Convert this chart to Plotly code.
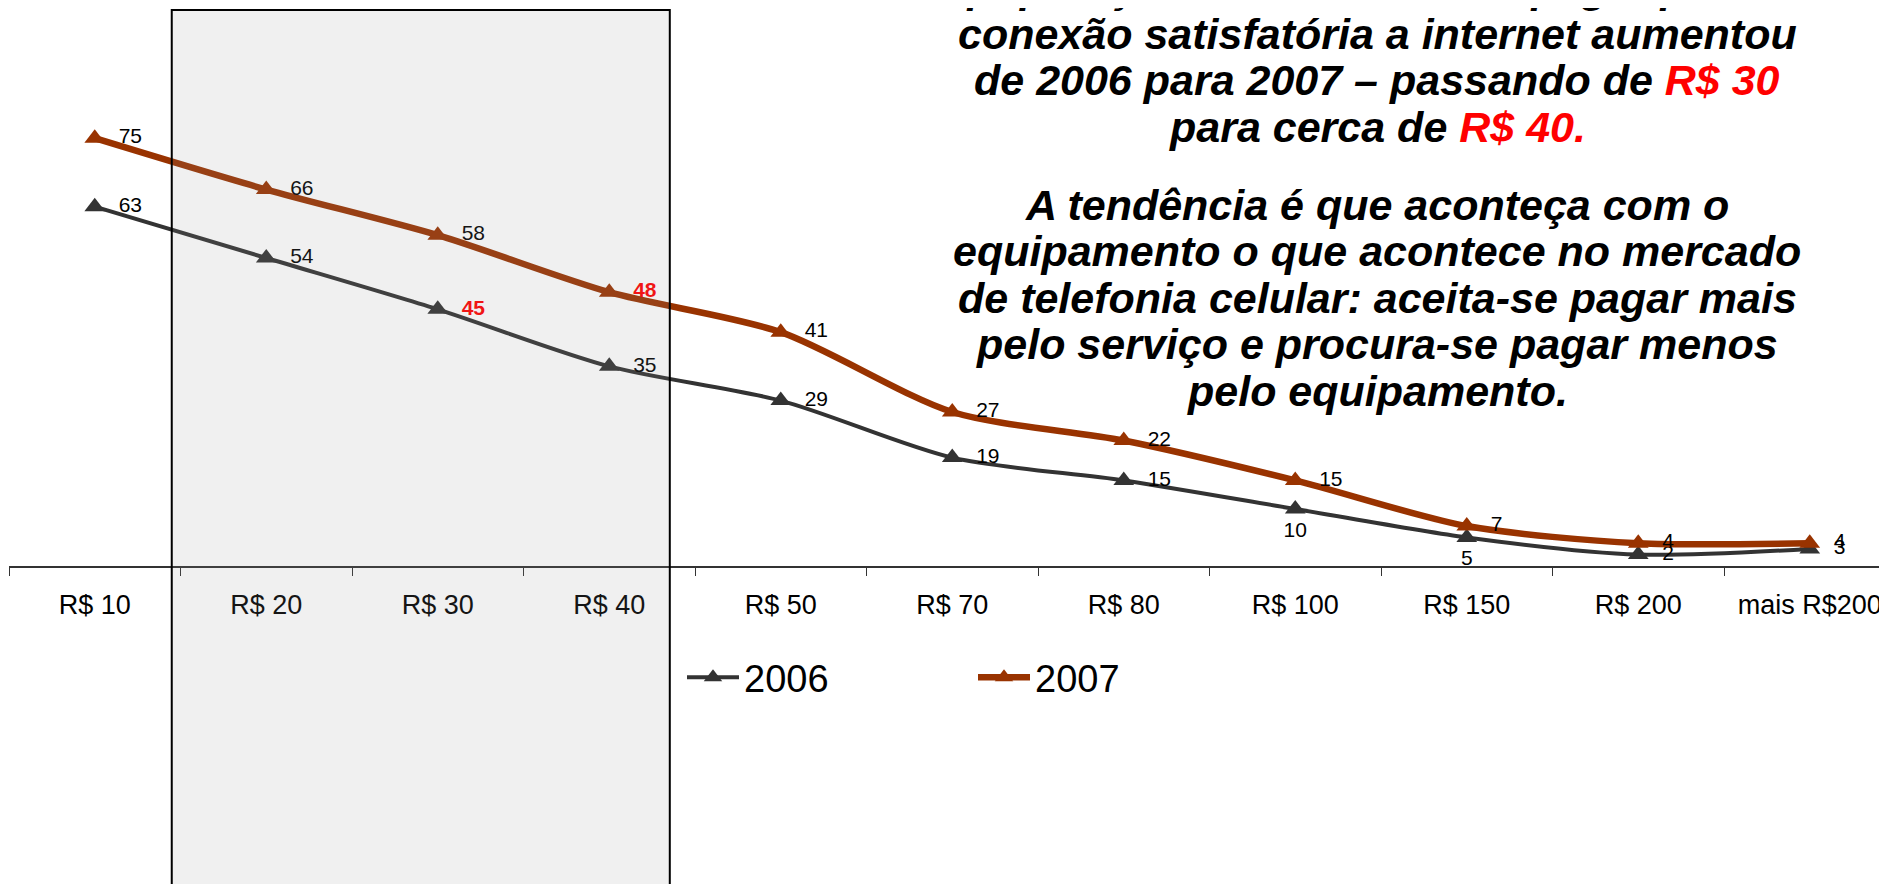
import plotly.graph_objects as go

# ---- data ----
categories = ["R$ 10", "R$ 20", "R$ 30", "R$ 40", "R$ 50", "R$ 70", "R$ 80",
              "R$ 100", "R$ 150", "R$ 200", "mais R$200"]
values_2006 = [63, 54, 45, 35, 29, 19, 15, 10, 5, 2, 3]
values_2007 = [75, 66, 58, 48, 41, 27, 22, 15, 7, 4, 4]
highlight_2006 = "R$ 30"
highlight_2007 = "R$ 40"
below_2006 = ["R$ 100", "R$ 150"]

text_par1 = [
    "A população brasileira aceita pagar por uma",
    "conexão satisfatória a internet aumentou",
    "de 2006 para 2007 – passando de <span style='color:#ff0000'>R$ 30</span>",
    "para cerca de <span style='color:#ff0000'>R$ 40.</span>",
]
text_par2 = [
    "A tendência é que aconteça com o",
    "equipamento o que acontece no mercado",
    "de telefonia celular: aceita-se pagar mais",
    "pelo serviço e procura-se pagar menos",
    "pelo equipamento.",
]

# page body adds an 8px offset; figure is sized so the page is 1887x884
OFF = 8
W, H = 1887 - OFF, 884 - OFF
ML, MR, MT, MB = 1, 0, 0, 318
PH = H - MT - MB
PW = W - ML - MR
PX_PER_UNIT = 5.704
YMAX = PH / PX_PER_UNIT
XEND = -0.5 + PW / 171.5


def px_x(p):  # p: target page pixel
    return (p - OFF - ML) / PW


def px_y(p):
    return (H - MB - (p - OFF)) / PH


FONT = "Liberation Sans, Arial, sans-serif"
NB = "\u00a0\u00a0"


def labels(vals, cats, hl, below=()):
    txt, col, pos = [], [], []
    for v, c in zip(vals, cats):
        s = f"<b>{v}</b>" if c == hl else str(v)
        col.append("#ff0000" if c == hl else "#000000")
        if c in below:
            txt.append(s)
            pos.append("bottom center")
        else:
            txt.append(NB + s)
            pos.append("middle right")
    return txt, col, pos


t06, c06, p06 = labels(values_2006, categories, highlight_2006, below_2006)
t07, c07, p07 = labels(values_2007, categories, highlight_2007)

fig = go.Figure()
fig.add_trace(go.Scatter(
    x=categories, y=values_2006, name="2006", mode="lines+markers+text",
    line=dict(color="#333333", width=4, shape="spline", smoothing=0.8),
    marker=dict(symbol="triangle-up", size=18, color="#333333"),
    text=t06, textposition=p06,
    textfont=dict(family=FONT, size=21, color=c06),
    cliponaxis=False,
))
fig.add_trace(go.Scatter(
    x=categories, y=values_2007, name="2007", mode="lines+markers+text",
    line=dict(color="#993300", width=6.5, shape="spline", smoothing=0.8),
    marker=dict(symbol="triangle-up", size=18, color="#993300"),
    text=t07, textposition=p07,
    textfont=dict(family=FONT, size=21, color=c07),
    cliponaxis=False,
))

# highlighted price band (R$ 20 - R$ 40)
fig.add_shape(type="rect", xref="x", yref="paper",
              x0=0.449, x1=3.353, y0=-1, y1=px_y(10),
              line=dict(color="#000000", width=2),
              fillcolor="rgba(150,150,150,0.14)", layer="above")

# commentary text
line_px = 46.6
for i, s in enumerate(text_par1):
    yc = 33.7 + (i - 1) * line_px if i > 0 else -13
    fig.add_annotation(xref="paper", yref="paper", x=px_x(1377), y=px_y(yc),
                       text=f"<b><i>{s}</i></b>", showarrow=False,
                       xanchor="center", yanchor="middle",
                       font=dict(family=FONT, size=43, color="#000000"))
for i, s in enumerate(text_par2):
    yc = 204.6 + i * line_px
    fig.add_annotation(xref="paper", yref="paper", x=px_x(1377), y=px_y(yc),
                       text=f"<b><i>{s}</i></b>", showarrow=False,
                       xanchor="center", yanchor="middle",
                       font=dict(family=FONT, size=43, color="#000000"))

fig.update_layout(
    width=W, height=H,
    margin=dict(l=ML, r=MR, t=MT, b=MB, pad=0),
    paper_bgcolor="#ffffff", plot_bgcolor="rgba(0,0,0,0)",
    showlegend=True,
    legend=dict(orientation="h", x=px_x(682), xanchor="left",
                y=px_y(677.6), yanchor="middle",
                font=dict(family=FONT, size=38, color="#000000"),
                itemwidth=52,
                entrywidth=224, entrywidthmode="pixels",
                bgcolor="rgba(0,0,0,0)"),
    xaxis=dict(type="category", categoryorder="array", categoryarray=categories,
               range=[-0.5, XEND], showgrid=False, zeroline=False,
               showline=True, linecolor="#333333", linewidth=1.5,
               ticks="outside", tickson="boundaries", ticklen=8,
               tickcolor="#333333", tickwidth=1.2,
               ticklabelstandoff=14,
               tickfont=dict(family=FONT, size=27, color="#000000"),
               fixedrange=True),
    yaxis=dict(visible=False, range=[0, YMAX], fixedrange=True),
)

fig.write_html("out.html")
